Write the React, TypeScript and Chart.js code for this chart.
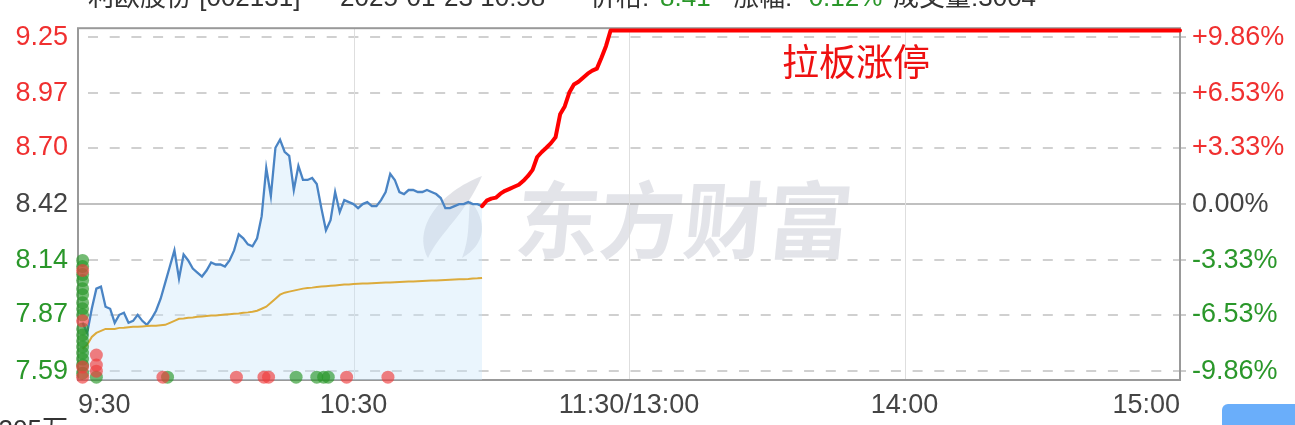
import React, { useEffect, useRef } from "react";
import { Chart, registerables } from "chart.js";

Chart.register(...registerables);

// ---------- data ----------
const PRE_CLOSE = 8.42;
const LIMIT_PRICE = 9.283;
const Y_MIN = 7.546;
const Y_MAX = 9.294;

const priceTicks = [7.59, 7.87, 8.14, 8.42, 8.7, 8.97, 9.25];
const pctLabels = ["-9.86%", "-6.53%", "-3.33%", "0.00%", "+3.33%", "+6.53%", "+9.86%"];

const timeTickMinutes = [0, 60, 120, 180, 240];
const timeTickLabels = ["9:30", "10:30", "11:30/13:00", "14:00", "15:00"];

const priceStartMinute = 1;
const priceValues = [
  7.83, 7.78, 7.9, 8.0, 8.01, 7.91, 7.9, 7.83, 7.87, 7.88,
  7.83, 7.84, 7.87, 7.84, 7.82, 7.85, 7.89, 7.95, 8.03, 8.11,
  8.19, 8.05, 8.17, 8.14, 8.1, 8.08, 8.06, 8.09, 8.13, 8.12,
  8.12, 8.11, 8.14, 8.19, 8.27, 8.25, 8.22, 8.21, 8.25, 8.36,
  8.6, 8.46, 8.7, 8.74, 8.68, 8.66, 8.49, 8.61, 8.54, 8.54,
  8.55, 8.52, 8.4, 8.29, 8.34, 8.48, 8.38, 8.44, 8.43, 8.42,
  8.4, 8.42, 8.43, 8.41, 8.41, 8.44, 8.48, 8.57, 8.54, 8.48,
  8.47, 8.49, 8.49, 8.48, 8.48, 8.49, 8.48, 8.47, 8.45, 8.4,
  8.4, 8.41, 8.42, 8.42, 8.43, 8.42, 8.42, 8.41,
];

const avgValues = [
  7.7, 7.72, 7.76, 7.78, 7.79, 7.8, 7.8, 7.8, 7.805, 7.806,
  7.808, 7.81, 7.81, 7.812, 7.814, 7.815, 7.816, 7.818, 7.82, 7.83,
  7.84, 7.85, 7.852, 7.855, 7.857, 7.86, 7.862, 7.864, 7.866, 7.867,
  7.869, 7.871, 7.873, 7.875, 7.877, 7.88, 7.882, 7.885, 7.89, 7.9,
  7.91, 7.93, 7.95, 7.97, 7.98, 7.985, 7.99, 7.995, 8.0, 8.003,
  8.005, 8.008, 8.01, 8.012, 8.014, 8.016, 8.018, 8.02, 8.021, 8.023,
  8.024, 8.025, 8.026, 8.027, 8.028, 8.029, 8.03, 8.031, 8.032, 8.033,
  8.034, 8.035, 8.036, 8.037, 8.038, 8.039, 8.04, 8.041, 8.042, 8.043,
  8.044, 8.045, 8.046, 8.047, 8.048, 8.05, 8.051, 8.053,
];

const riseStartMinute = 88;
const riseValues = [
  8.41, 8.437, 8.447, 8.452, 8.472, 8.486, 8.496, 8.506, 8.516, 8.536,
  8.56, 8.59, 8.654, 8.679, 8.7, 8.723, 8.752, 8.866, 8.905, 8.974,
  9.014, 9.028, 9.048, 9.068, 9.083, 9.093, 9.147, 9.206, 9.283,
];
const limitEndMinute = 240;

const redDotMinutes = [1, 1, 1, 1, 4, 4, 4, 18.5, 34.5, 40.5, 41.5, 58.5, 67.5];
const redDotPrices = [8.09, 7.84, 7.61, 7.56, 7.67, 7.62, 7.59, 7.56, 7.56, 7.56, 7.56, 7.56, 7.56];

const greenDotMinutes = [1, 1, 1, 1, 1, 1, 1, 1, 1, 1, 1, 1, 1, 1, 1, 1, 1, 4, 19.5, 47.5, 52, 53.5, 54.5];
const greenDotPrices = [
  8.14, 8.11, 8.07, 8.04, 8.0, 7.97, 7.93, 7.9, 7.87, 7.8,
  7.77, 7.74, 7.71, 7.68, 7.65, 7.62, 7.58, 7.56, 7.56, 7.56,
  7.56, 7.56, 7.56,
];

const headerParts: [string, string][] = [
  ["利欧股份 [002131]", "#333"],
  ["2025-01-23 10:58", "#333"],
  ["价格:", "#333"],
  ["8.41", "#2a972a"],
  ["涨幅:", "#333"],
  ["-0.12%", "#2a972a"],
  ["成交量:3004", "#333"],
];
const annotationText = "拉板涨停";
const watermarkText = "东方财富";
const volumeUnitText = "305万";

// ---------- styles ----------
const RED = "#f03030";
const GREEN = "#2a972a";
const GRAY = "#444";
const FONT = "Arial, 'Liberation Sans', 'Noto Sans CJK SC', sans-serif";

const colorFor = (v: number) => (v > PRE_CLOSE + 1e-9 ? RED : v < PRE_CLOSE - 1e-9 ? GREEN : GRAY);

const decorPlugin = {
  id: "decor",
  beforeDatasetsDraw(chart: any) {
    const { ctx, chartArea: a, scales } = chart;
    const ys = scales.y;
    const xs = scales.x;
    ctx.save();

    // watermark logo
    ctx.fillStyle = "rgba(200,202,212,0.55)";
    ctx.beginPath();
    ctx.moveTo(482, 176);
    ctx.bezierCurveTo(440, 192, 412, 228, 428, 258);
    ctx.bezierCurveTo(440, 232, 466, 214, 482, 176);
    ctx.fill();
    ctx.beginPath();
    ctx.moveTo(470, 200);
    ctx.bezierCurveTo(488, 222, 486, 244, 462, 258);
    ctx.bezierCurveTo(470, 238, 468, 220, 470, 200);
    ctx.fill();

    // watermark text
    ctx.fillStyle = "rgba(208,210,218,0.6)";
    ctx.font = `bold 84px 'Noto Sans CJK SC', sans-serif`;
    ctx.textAlign = "left";
    ctx.textBaseline = "alphabetic";
    const base = 252;
    ctx.setTransform(1, 0, -0.1, 1, 0.1 * base, 0);
    ctx.fillText(watermarkText, 513, base);
    ctx.setTransform(1, 0, 0, 1, 0, 0);

    // horizontal grid
    priceTicks.forEach((v) => {
      const py = Math.round(ys.getPixelForValue(v));
      ctx.beginPath();
      if (v === PRE_CLOSE) {
        ctx.setLineDash([]);
        ctx.strokeStyle = "#ababab";
        ctx.lineWidth = 1.5;
      } else {
        ctx.setLineDash([10, 11.7]);
        ctx.lineDashOffset = 11.7;
        ctx.strokeStyle = "#d0d0d0";
        ctx.lineWidth = 2;
      }
      ctx.moveTo(a.left, py);
      ctx.lineTo(a.right, py);
      ctx.stroke();
    });
    ctx.setLineDash([]);

    // vertical grid
    ctx.strokeStyle = "#dedede";
    ctx.lineWidth = 1;
    timeTickMinutes.slice(1, -1).forEach((m) => {
      const px = Math.round(xs.getPixelForValue(m)) + 0.5;
      ctx.beginPath();
      ctx.moveTo(px, a.top);
      ctx.lineTo(px, a.bottom);
      ctx.stroke();
    });

    // border
    ctx.strokeStyle = "#999";
    ctx.lineWidth = 2;
    ctx.strokeRect(a.left, a.top, a.right - a.left, a.bottom - a.top);

    // right tick marks
    ctx.strokeStyle = "#bbb";
    ctx.lineWidth = 1.5;
    priceTicks.forEach((v) => {
      const py = Math.round(ys.getPixelForValue(v));
      ctx.beginPath();
      ctx.moveTo(a.right + 1, py);
      ctx.lineTo(a.right + 6, py);
      ctx.stroke();
    });
    ctx.restore();
  },
  afterDatasetsDraw(chart: any) {
    const { ctx } = chart;
    ctx.save();
    ctx.fillStyle = "#ee1111";
    ctx.font = `37px 'Noto Sans CJK SC', sans-serif`;
    ctx.textAlign = "left";
    ctx.textBaseline = "middle";
    ctx.fillText(annotationText, 782, 62);
    ctx.restore();
  },
  afterDraw(chart: any) {
    const { ctx } = chart;
    ctx.save();
    // clipped header
    ctx.font = `26px ${FONT}`;
    ctx.textBaseline = "alphabetic";
    ctx.textAlign = "left";
    const xs = [88, 340, 590, 660, 733, 800, 893];
    headerParts.forEach(([t, c], i) => {
      ctx.fillStyle = c;
      ctx.fillText(t, xs[i], 6);
    });
    // clipped bottom-left text
    ctx.fillStyle = "#333";
    ctx.textAlign = "right";
    ctx.textBaseline = "top";
    ctx.fillText(volumeUnitText, 68, 418);
    // bottom-right button
    ctx.fillStyle = "#6aaefa";
    ctx.beginPath();
    (ctx as any).roundRect(1222, 404, 90, 40, 6);
    ctx.fill();
    ctx.restore();
  },
};

export default function App() {
  const ref = useRef<HTMLCanvasElement | null>(null);

  useEffect(() => {
    if (!ref.current) return;
    const priceData = priceValues.map((v, i) => ({ x: priceStartMinute + i, y: v }));
    const avgData = avgValues.map((v, i) => ({ x: priceStartMinute + i, y: v }));
    const riseData = riseValues.map((v, i) => ({ x: riseStartMinute + i, y: v }));
    riseData.push({ x: limitEndMinute, y: LIMIT_PRICE });
    const redDots = redDotMinutes.map((m, i) => ({ x: m, y: redDotPrices[i] }));
    const greenDots = greenDotMinutes.map((m, i) => ({ x: m, y: greenDotPrices[i] }));

    const tickFont = { family: FONT, size: 27 };

    const chart = new Chart(ref.current, {
      type: "line",
      data: {
        datasets: [
          {
            type: "scatter",
            data: redDots,
            pointRadius: 6.5,
            pointBackgroundColor: "rgba(240,60,60,0.65)",
            pointBorderWidth: 0,
            showLine: false,
            clip: false,
            order: 0,
          } as any,
          {
            type: "scatter",
            data: greenDots,
            pointRadius: 6.5,
            pointBackgroundColor: "rgba(40,150,40,0.65)",
            pointBorderWidth: 0,
            showLine: false,
            clip: false,
            order: 0,
          } as any,
          {
            data: riseData,
            borderColor: "#ff0000",
            borderWidth: 4,
            pointRadius: 0,
            fill: false,
            tension: 0,
            borderJoinStyle: "round",
            borderCapStyle: "round",
            clip: false,
            order: 1,
          },
          {
            data: avgData,
            borderColor: "#dcab3c",
            borderWidth: 2,
            pointRadius: 0,
            fill: false,
            tension: 0,
            order: 2,
          },
          {
            data: priceData,
            borderColor: "#4a84c4",
            borderWidth: 2.3,
            pointRadius: 0,
            fill: "start",
            backgroundColor: "rgba(200,228,250,0.38)",
            tension: 0,
            order: 3,
          },
        ],
      },
      options: {
        responsive: false,
        animation: false,
        events: [],
        layout: { padding: { top: 25, left: 0, right: 0, bottom: 0 } },
        plugins: {
          legend: { display: false },
          tooltip: { enabled: false },
        },
        scales: {
          x: {
            type: "linear",
            min: 0,
            max: 240,
            afterBuildTicks: (s: any) => {
              s.ticks = timeTickMinutes.map((v) => ({ value: v }));
            },
            afterFit: (s: any) => {
              s.height = 45;
            },
            grid: { display: false, drawTicks: false },
            border: { display: false },
            ticks: {
              align: "inner",
              autoSkip: false,
              maxRotation: 0,
              padding: 9,
              color: GRAY,
              font: tickFont,
              callback: (v: any) => timeTickLabels[timeTickMinutes.indexOf(Number(v))],
            },
          } as any,
          y: {
            type: "linear",
            position: "left",
            min: Y_MIN,
            max: Y_MAX,
            afterBuildTicks: (s: any) => {
              s.ticks = priceTicks.map((v) => ({ value: v }));
            },
            afterFit: (s: any) => {
              s.width = 78;
            },
            grid: { display: false, drawTicks: false },
            border: { display: false },
            ticks: {
              padding: 10,
              font: tickFont,
              color: (c: any) => colorFor(c.tick.value),
              callback: (v: any) => Number(v).toFixed(2),
            },
          } as any,
          y2: {
            type: "linear",
            position: "right",
            min: Y_MIN,
            max: Y_MAX,
            afterBuildTicks: (s: any) => {
              s.ticks = priceTicks.map((v) => ({ value: v }));
            },
            afterFit: (s: any) => {
              s.width = 115;
            },
            grid: { display: false, drawTicks: false },
            border: { display: false },
            ticks: {
              padding: 12,
              font: tickFont,
              color: (c: any) => colorFor(c.tick.value),
              callback: (v: any) => pctLabels[priceTicks.indexOf(Number(v))],
            },
          } as any,
        },
      },
      plugins: [decorPlugin],
    });
    return () => chart.destroy();
  }, []);

  return (
    <div style={{ position: "fixed", left: 0, top: 0, width: 1295, height: 425, background: "#fff" }}>
      <canvas ref={ref} width={1295} height={425} style={{ display: "block" }} />
    </div>
  );
}
